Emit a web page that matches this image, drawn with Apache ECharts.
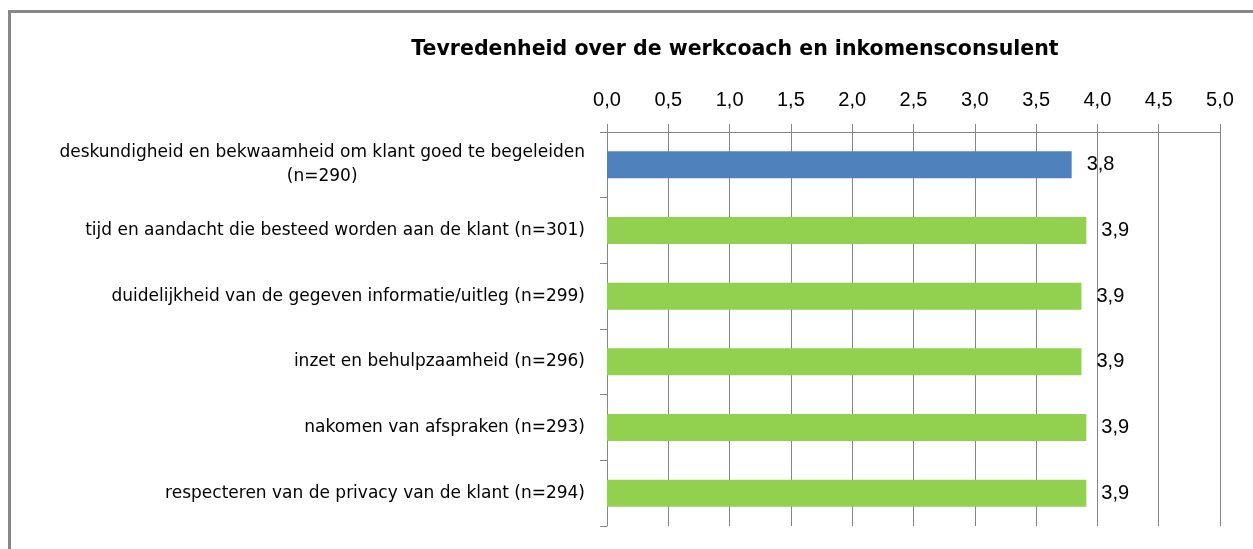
<!DOCTYPE html>
<html>
<head>
<meta charset="utf-8">
<script src="https://cdn.jsdelivr.net/npm/echarts@6/dist/echarts.min.js"></script>
<style>
html,body{margin:0;padding:0;background:#fff;}
#chart{width:1253px;height:549px;}
</style>
</head>
<body>
<div id="chart"></div>
<script>
const titleText = 'Tevredenheid over de werkcoach en inkomensconsulent';
const categories = [
  'deskundigheid en bekwaamheid om klant goed te begeleiden\n(n=290)',
  'tijd en aandacht die besteed worden aan de klant (n=301)',
  'duidelijkheid van de gegeven informatie/uitleg (n=299)',
  'inzet en behulpzaamheid (n=296)',
  'nakomen van afspraken (n=293)',
  'respecteren van de privacy van de klant (n=294)'
];
const values = [3.79, 3.91, 3.87, 3.87, 3.91, 3.91];
const axisMin = 0, axisMax = 5, axisStep = 0.5;

const BLUE = '#4F81BD', GREEN = '#92D050', GRID = '#868686';
const highlightIndex = 0;

const chart = echarts.init(document.getElementById('chart'), null, {renderer: 'canvas'});
const fmtComma = v => v.toFixed(1).replace('.', ',');

chart.setOption({
  animation: false,
  backgroundColor: '#ffffff',
  title: {
    text: titleText,
    left: 730,
    textAlign: 'center',
    top: 34,
    textStyle: {fontFamily: 'DejaVu Sans', fontWeight: 'bold', fontSize: 20.5, color: '#000'}
  },
  graphic: [{
    type: 'rect',
    shape: {x: 9.5, y: 11.5, width: 1400, height: 700},
    style: {fill: 'none', stroke: '#878787', lineWidth: 3},
    silent: true
  }],
  grid: {left: 607, right: 33, top: 132, bottom: 23, containLabel: false},
  xAxis: {
    type: 'value',
    position: 'top',
    min: axisMin, max: axisMax, interval: axisStep,
    axisLine: {show: true, lineStyle: {color: GRID, width: 1}},
    axisTick: {show: true, length: 8, inside: false, lineStyle: {color: GRID}},
    splitLine: {show: true, lineStyle: {color: GRID, width: 1}},
    axisLabel: {
      margin: 22,
      fontFamily: 'Liberation Sans', fontSize: 20, color: '#000',
      formatter: v => fmtComma(v)
    }
  },
  yAxis: {
    type: 'category',
    inverse: true,
    data: categories,
    axisLine: {show: true, lineStyle: {color: GRID}},
    axisTick: {show: true, length: 7, lineStyle: {color: GRID}},
    axisLabel: {
      margin: 22,
      fontFamily: 'DejaVu Sans', fontSize: 17, color: '#000',
      lineHeight: 24,
      formatter: v => v.split('\n').map(s => '{c|' + s + '}').join('\n'),
      rich: {c: {align: 'center', fontFamily: 'DejaVu Sans', fontSize: 17, color: '#000', lineHeight: 24}}
    }
  },
  series: [{
    type: 'bar',
    barCategoryGap: '59%',
    data: values.map((v, i) => ({value: v, itemStyle: {color: i === highlightIndex ? BLUE : GREEN}})),
    label: {
      show: true,
      position: 'right',
      distance: 15,
      fontFamily: 'Liberation Sans', fontSize: 20, color: '#000',
      formatter: p => fmtComma(p.value)
    }
  }]
});
</script>
</body>
</html>
